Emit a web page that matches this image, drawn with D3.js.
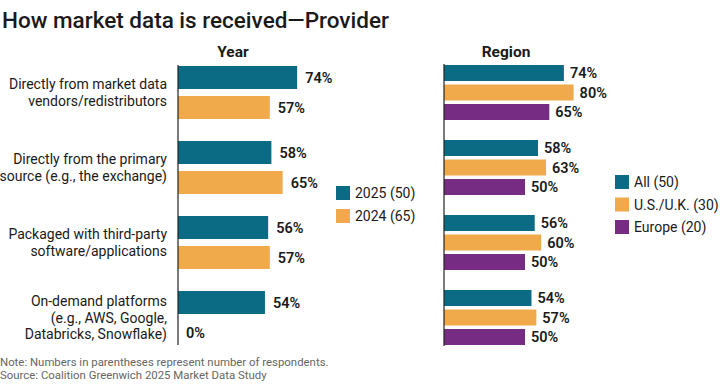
<!DOCTYPE html>
<html>
<head>
<meta charset="utf-8">
<script src="https://cdn.jsdelivr.net/npm/d3@7"></script>
<style>
  body { margin: 0; background: #fff; }
  text { font-family: Roboto, "Liberation Sans", sans-serif; fill: #1a1a1a; }
</style>
</head>
<body>
<div id="chart"></div>
<script>
// Data
const categories = [
  ["Directly from market data", "vendors/redistributors"],
  ["Directly from the primary", "source (e.g., the exchange)"],
  ["Packaged with third-party", "software/applications"],
  ["On-demand platforms", "(e.g., AWS, Google,", "Databricks, Snowflake)"],
];
const yearSeries = ["2025 (50)", "2024 (65)"];
const year2025 = [74, 58, 56, 54];
const year2024 = [57, 65, 57, 0];
const regionSeries = ["All (50)", "U.S./U.K. (30)", "Europe (20)"];
const regionAll = [74, 58, 56, 54];
const regionUSUK = [80, 63, 60, 57];
const regionEurope = [65, 50, 50, 50];

const width = 720;
const height = 392;
const colors = ["#0b6a84", "#f0a94b", "#762c82"];

const svg = d3
  .select("#chart")
  .append("svg")
  .attr("width", width)
  .attr("height", height);

svg
  .append("text")
  .attr("x", 2)
  .attr("y", 28)
  .attr("font-size", "22.5px")
  .attr("font-weight", 500)
  .text("How market data is received\u2014Provider");

const groupIdx = categories.map((d, i) => i);

function panel(opts) {
  const { x0, x1, values, series, title, titleX, inner, outerPad } = opts;
  const x = d3.scaleLinear().domain([0, 100]).range([x0, x1]);
  const y = d3
    .scaleBand()
    .domain(groupIdx)
    .range([opts.top, opts.bottom])
    .paddingInner(outerPad);
  const ys = d3
    .scaleBand()
    .domain(series.map((d, i) => i))
    .range([0, y.bandwidth()])
    .paddingInner(inner);

  const g = svg.append("g");

  g.append("text")
    .attr("x", titleX)
    .attr("y", 57)
    .attr("text-anchor", "middle")
    .attr("font-size", "15.5px")
    .attr("font-weight", 700)
    .text(title);

  values.forEach((vals, si) => {
    vals.forEach((v, gi) => {
      const yy = y(gi) + ys(si);
      if (v > 0) {
        g.append("rect")
          .attr("x", x(0))
          .attr("y", yy)
          .attr("width", x(v) - x(0))
          .attr("height", ys.bandwidth())
          .attr("fill", colors[si]);
      }
      g.append("text")
        .attr("x", x(v) + opts.labelGap)
        .attr("y", yy + ys.bandwidth() / 2)
        .attr("dy", "0.36em")
        .attr("font-size", "14.5px")
        .attr("font-weight", 600)
        .text(v + "%");
    });
  });

  g.append("line")
    .attr("x1", x(0))
    .attr("x2", x(0))
    .attr("y1", opts.top - 1)
    .attr("y2", opts.bottom + 1)
    .attr("stroke", "#222")
    .attr("stroke-width", 1.2);

  const legend = g
    .append("g")
    .attr("transform", `translate(${opts.legendX},${opts.legendY})`);
  series.forEach((s, i) => {
    const item = legend
      .append("g")
      .attr("transform", `translate(0,${i * opts.legendStep})`);
    item
      .append("rect")
      .attr("width", 14)
      .attr("height", 14)
      .attr("fill", colors[i]);
    item
      .append("text")
      .attr("x", 19)
      .attr("y", 7)
      .attr("dy", "0.36em")
      .attr("font-size", "14px")
      .text(s);
  });

  return y;
}

const yLeft = panel({
  x0: 178,
  x1: 339,
  top: 66,
  bottom: 344,
  outerPad: 22 / 75,
  inner: 7 / 30,
  values: [year2025, year2024],
  series: yearSeries,
  title: "Year",
  titleX: 233,
  labelGap: 8,
  legendX: 336,
  legendY: 186,
  legendStep: 23,
});

panel({
  x0: 444,
  x1: 606,
  top: 65,
  bottom: 345,
  outerPad: 20 / 75,
  inner: 3.5 / 19.5,
  values: [regionAll, regionUSUK, regionEurope],
  series: regionSeries,
  title: "Region",
  titleX: 506,
  labelGap: 6,
  legendX: 615,
  legendY: 175,
  legendStep: 22.5,
});

// Category labels
categories.forEach((lines, i) => {
  const cy = yLeft(i) + yLeft.bandwidth() / 2;
  const lh = 16.5;
  const t = svg
    .append("text")
    .attr("text-anchor", "end")
    .attr("font-size", "14px");
  lines.forEach((line, j) => {
    t.append("tspan")
      .attr("x", 167)
      .attr("y", cy + (j - (lines.length - 1) / 2) * lh)
      .attr("dy", "0.36em")
      .text(line);
  });
});

// Footnotes
const notes = [
  "Note: Numbers in parentheses represent number of respondents.",
  "Source: Coalition Greenwich 2025 Market Data Study",
];
notes.forEach((n, i) => {
  svg
    .append("text")
    .attr("x", 0)
    .attr("y", 366 + i * 12.5)
    .attr("font-size", "11.4px")
    .style("fill", "#666")
    .text(n);
});
</script>
</body>
</html>
